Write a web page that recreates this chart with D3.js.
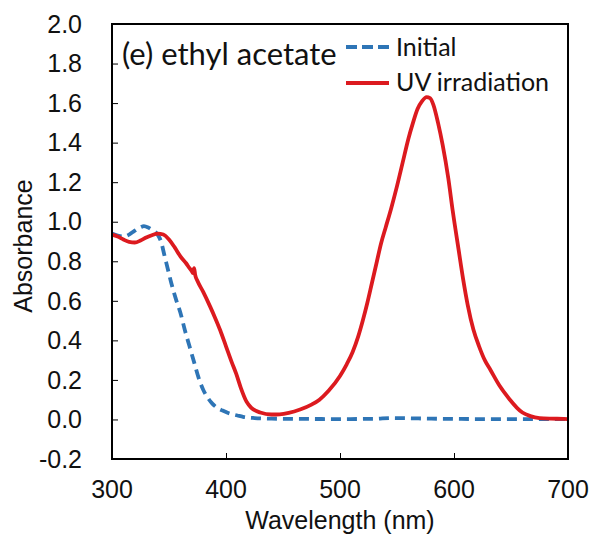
<!DOCTYPE html>
<html><head><meta charset="utf-8">
<script src="https://cdn.jsdelivr.net/npm/d3@7"></script>
<style>body{margin:0;background:#fff;} svg{display:block;}</style>
</head><body>
<svg id="chart" width="598" height="537"></svg>
<script>
const yTicks = [-0.2,0,0.2,0.4,0.6,0.8,1.0,1.2,1.4,1.6,1.8,2.0];
const xTicks = [300,400,500,600,700];
const panelLabel = "(e) ethyl acetate";
const seriesNames = ["Initial","UV irradiation"];
const xLabel = "Wavelength (nm)";
const yLabel = "Absorbance";

const uvWavelength = [300,305,310,315,320,325,330,335,340,345,350,355,360,365,368,370,371,372,373,375,380,386,390,395,400,405,409,413,418,422,430,440,447,455,465,475,482,490,500,506,511,516,520,524,528,532,536,540,545,550,555,560,564,568,572,576,579,582,586,590,595,599,604,608,612,617,622,627,632,640,649,655,660,667,675,685,696,700];
const uvAbs = [0.935,0.925,0.91,0.898,0.895,0.905,0.92,0.932,0.94,0.935,0.91,0.87,0.825,0.79,0.765,0.75,0.74,0.765,0.73,0.70,0.645,0.572,0.52,0.45,0.37,0.29,0.23,0.16,0.09,0.06,0.035,0.025,0.026,0.033,0.05,0.075,0.10,0.145,0.22,0.28,0.34,0.42,0.50,0.59,0.69,0.79,0.89,0.97,1.07,1.18,1.30,1.42,1.50,1.57,1.61,1.63,1.625,1.59,1.50,1.39,1.22,1.05,0.86,0.71,0.58,0.455,0.37,0.30,0.25,0.17,0.10,0.06,0.035,0.017,0.007,0.004,0.003,0.002];

const initWavelength = [300,305,310,315,320,325,328,332,336,340,343,346,349,352,356,360,364,368,372,376,380,384,388,392,397,403,410,415,425,440,460,500,530,545,560,580,600,620,650,680,700];
const initAbs = [0.94,0.93,0.925,0.935,0.955,0.972,0.978,0.97,0.955,0.935,0.9,0.83,0.76,0.69,0.61,0.54,0.45,0.37,0.29,0.21,0.15,0.11,0.08,0.06,0.045,0.03,0.02,0.013,0.007,0.004,0.003,0.002,0.003,0.007,0.006,0.004,0.003,0.002,0.002,0.002,0.002];

const blue = "#2e75b6", red = "#dc1a1f";
const svg = d3.select("#chart");
const L = 112, R = 568, T = 24, B = 459;
const x = d3.scaleLinear().domain([300,700]).range([L,R]);
const y = d3.scaleLinear().domain([-0.2,2.0]).range([B,T]);
const tickFont = "'Liberation Sans', Arial, sans-serif";

// Y axis ticks inside
const yAx = svg.append("g").attr("transform",`translate(${L},0)`)
  .call(d3.axisRight(y).tickValues(yTicks).tickSize(6).tickFormat(""));
yAx.select(".domain").remove();
yAx.selectAll("line").attr("stroke","#000").attr("stroke-width",1);
svg.append("g").selectAll("text").data(yTicks).join("text")
  .attr("x",82).attr("y",d=>y(d)).attr("dy","0.35em").attr("text-anchor","end")
  .style("font-family",tickFont).style("font-size","25px").attr("fill","#111")
  .text(d=>d3.format(".1f")(d).replace("−","-"));

// X axis ticks inside
const xAx = svg.append("g").attr("transform",`translate(0,${B})`)
  .call(d3.axisTop(x).tickValues(xTicks).tickSize(6).tickFormat(""));
xAx.select(".domain").remove();
xAx.selectAll("line").attr("stroke","#000").attr("stroke-width",1);
svg.append("g").selectAll("text").data(xTicks).join("text")
  .attr("x",d=>x(d)).attr("y",498).attr("text-anchor","middle")
  .style("font-family",tickFont).style("font-size","25px").attr("fill","#111")
  .text(d=>d);

// axis labels
svg.append("text").attr("x",340).attr("y",529).attr("text-anchor","middle")
  .style("font-family",tickFont).style("font-size","25px").attr("fill","#111").text(xLabel);
svg.append("text").attr("transform",`translate(32,246) rotate(-90)`).attr("text-anchor","middle")
  .style("font-family",tickFont).style("font-size","25px").attr("fill","#111").text(yLabel);

// lines
const line = d3.line().x(d=>x(d[0])).y(d=>y(d[1])).curve(d3.curveMonotoneX);
svg.append("path").datum(initWavelength.map((w,i)=>[w,initAbs[i]]))
  .attr("d",line).attr("fill","none").attr("stroke",blue).attr("stroke-width",3.8)
  .attr("stroke-dasharray","10,6");
svg.append("path").datum(uvWavelength.map((w,i)=>[w,uvAbs[i]]))
  .attr("d",line).attr("fill","none").attr("stroke",red).attr("stroke-width",3.8)
  .attr("stroke-linejoin","round");

// frame
svg.append("rect").attr("x",L).attr("y",T).attr("width",R-L).attr("height",B-T)
  .attr("fill","none").attr("stroke","#000").attr("stroke-width",2);

// labels / legend
const legFont = "Lato, 'Open Sans', sans-serif";
svg.append("text").attr("x",122).attr("y",65).style("font-family",legFont)
  .style("font-size","31px").attr("fill","#111").text(panelLabel);
svg.append("line").attr("x1",346).attr("x2",389).attr("y1",47).attr("y2",47)
  .attr("stroke",blue).attr("stroke-width",3.8).attr("stroke-dasharray","11,5");
svg.append("line").attr("x1",346).attr("x2",389).attr("y1",83).attr("y2",83)
  .attr("stroke",red).attr("stroke-width",3.8);
svg.append("text").attr("x",396).attr("y",56).style("font-family",legFont)
  .style("font-size","25px").attr("fill","#111").text(seriesNames[0]);
svg.append("text").attr("x",396).attr("y",91).style("font-family",legFont)
  .style("font-size","25px").attr("fill","#111").text(seriesNames[1]);
</script>
</body></html>
